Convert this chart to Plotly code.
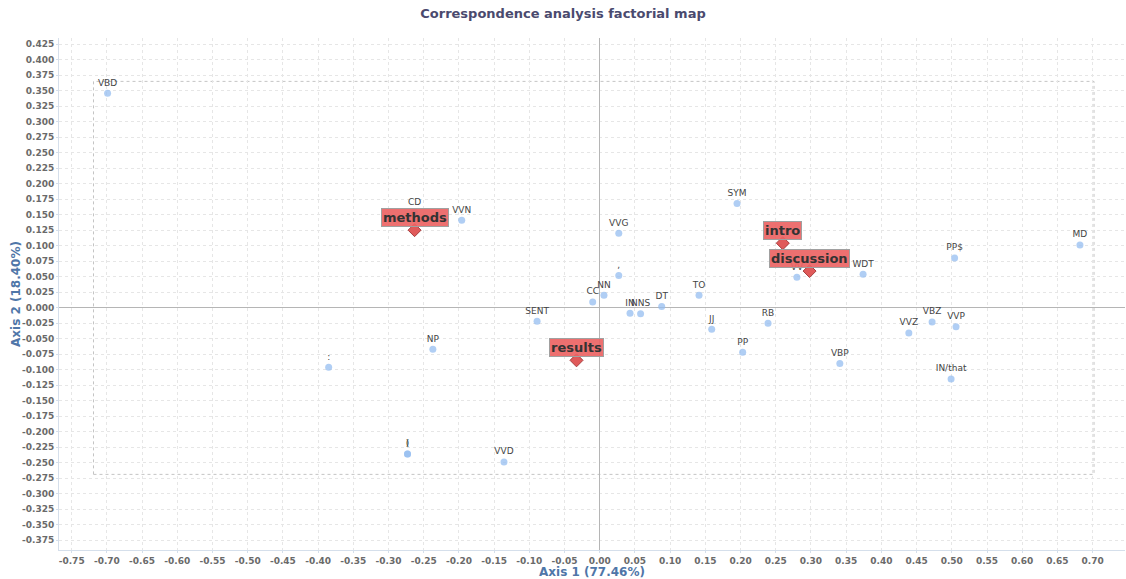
import plotly.graph_objects as go

# Column categories (POS tags) and their coordinates on the first two factorial axes
tags = ["VBD", "CD", "VVN", "VVG", ",", "SYM", "VV", "WDT", "PP$", "MD",
        "NN", "CC", "IN", "NNS", "DT", "TO", "JJ", "SENT", "RB", "VVZ",
        "VBZ", "VVP", "PP", "NP", ":", "VBP", "IN/that", "(", ")", "VVD"]
tag_x = [-0.699, -0.263, -0.196, 0.027, 0.027, 0.195, 0.280, 0.374, 0.504, 0.682,
         0.006, -0.010, 0.043, 0.058, 0.088, 0.141, 0.159, -0.089, 0.239, 0.439,
         0.472, 0.506, 0.203, -0.237, -0.385, 0.341, 0.499, -0.273, -0.273, -0.136]
tag_y = [0.346, 0.154, 0.141, 0.120, 0.052, 0.168, 0.049, 0.054, 0.080, 0.101,
         0.020, 0.009, -0.009, -0.010, 0.002, 0.020, -0.035, -0.022, -0.025, -0.041,
         -0.023, -0.031, -0.072, -0.067, -0.096, -0.090, -0.115, -0.236, -0.236, -0.249]

# Row categories (article sections)
sections = ["methods", "intro", "discussion", "results"]
sec_x = [-0.263, 0.260, 0.298, -0.033]
sec_y = [0.125, 0.104, 0.059, -0.085]

# Axis inertia shares
axis1_pct = 77.46
axis2_pct = 18.40

x_ticks = [round(-0.75 + 0.05 * i, 2) for i in range(30)]
y_ticks = [round(-0.375 + 0.025 * i, 3) for i in range(33)]

fig = go.Figure()

fig.add_trace(go.Scatter(
    x=tag_x, y=tag_y, mode="markers+text", text=tags,
    textposition="top center",
    textfont=dict(family="DejaVu Sans", size=9, color="#444444"),
    marker=dict(size=7, color="rgba(150,190,240,0.75)", line=dict(width=0)),
    hoverinfo="text", showlegend=False,
))

fig.add_trace(go.Scatter(
    x=sec_x, y=sec_y, mode="markers",
    marker=dict(symbol="diamond", size=10, color="#e05a5a",
                line=dict(color="#a84040", width=1)),
    hoverinfo="skip", showlegend=False,
))

for name, sx, sy in zip(sections, sec_x, sec_y):
    fig.add_annotation(
        x=sx, y=sy, text=f"<b>{name}</b>", showarrow=False,
        xanchor="center", yanchor="bottom", yshift=3,
        font=dict(family="DejaVu Sans", size=13, color="#333333"),
        bgcolor="rgba(236,100,100,0.92)", bordercolor="#a0a0a0",
        borderwidth=1, borderpad=1,
    )

# Bounding frame around all the plotted categories
fig.add_shape(type="rect", xref="x", yref="y",
              x0=-0.719, x1=0.702, y0=-0.269, y1=0.365,
              line=dict(color="#c4c4c4", width=1, dash="dot"),
              layer="below")

fig.add_annotation(
    text=f"<b>Axis 1 ({axis1_pct:.2f}%)</b>", xref="paper", yref="paper",
    x=0.5, y=0, yshift=-22, xanchor="center", yanchor="middle",
    showarrow=False, font=dict(family="DejaVu Sans", size=12, color="#4f76a8"),
)
fig.add_annotation(
    text=f"<b>Axis 2 ({axis2_pct:.2f}%)</b>", xref="paper", yref="paper",
    x=0, y=0.5, xshift=-43, xanchor="center", yanchor="middle", textangle=-90,
    showarrow=False, font=dict(family="DejaVu Sans", size=12, color="#4f76a8"),
)

axis_common = dict(
    showgrid=True, gridcolor="#e6e6e6", griddash="dot", gridwidth=1,
    zeroline=True, zerolinecolor="#b5b5b5", zerolinewidth=1,
    showline=True, linecolor="#d5dfeb", linewidth=1,
    ticks="outside", ticklen=2, tickcolor="#d5dfeb",
    tickfont=dict(family="DejaVu Sans", size=9, color="#6a6a6a", weight="bold"),
    automargin=False,
)

fig.update_xaxes(range=[-0.768, 0.746], tickvals=x_ticks,
                 ticktext=[f"{v:.2f}" for v in x_ticks], **axis_common)
fig.update_yaxes(range=[-0.391, 0.435], tickvals=y_ticks,
                 ticktext=[f"{v:.3f}" for v in y_ticks], **axis_common)

fig.update_layout(
    width=1126, height=579,
    margin=dict(l=59, r=1, t=38, b=29),
    paper_bgcolor="white", plot_bgcolor="white",
    title=dict(text="<b>Correspondence analysis factorial map</b>",
               x=0.5, xanchor="center", y=0.985, yanchor="top",
               font=dict(family="DejaVu Sans", size=13, color="#4a4a6e")),
    font=dict(family="DejaVu Sans"),
)

fig.write_html("out.html")
